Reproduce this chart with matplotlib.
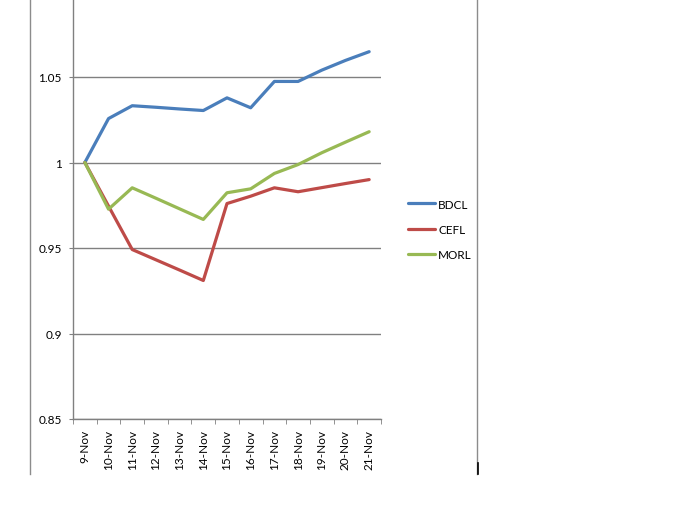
import matplotlib
matplotlib.use('Agg')
import matplotlib.pyplot as plt
from matplotlib.lines import Line2D
import numpy as np

# dates on the category axis
days = ['9-Nov', '10-Nov', '11-Nov', '12-Nov', '13-Nov', '14-Nov', '15-Nov',
        '16-Nov', '17-Nov', '18-Nov', '19-Nov', '20-Nov', '21-Nov']

# relative price
bdcl = [1.000, 1.0257, 1.0332, 1.0323, 1.0313, 1.0304, 1.0378,
        1.0320, 1.0474, 1.0474, 1.0540, 1.0597, 1.0648]
cefl = [1.000, 0.9745, 0.9491, 0.9431, 0.9371, 0.9310, 0.9760,
        0.9803, 0.9852, 0.9829, 0.9853, 0.9877, 0.9900]
morl = [1.000, 0.9727, 0.9852, 0.9791, 0.9729, 0.9667, 0.9823,
        0.9846, 0.9936, 0.9988, 1.0057, 1.0119, 1.0180]

series = [('BDCL', bdcl, '#4A7EBB'), ('CEFL', cefl, '#BE4B48'), ('MORL', morl, '#98B954')]

plt.rcParams['font.family'] = ['Lato', 'DejaVu Sans']

W, H = 682, 506
fig = plt.figure(figsize=(W/100, H/100), dpi=100)
ax = fig.add_axes([73/W, 1-420/H, (381-73)/W, 420/H])

x = np.arange(len(days))
for name, vals, col in series:
    ax.plot(x, vals, color=col, lw=2.3, label=name, solid_capstyle='round')

ax.set_xlim(-0.5, len(days)-0.5)
ax.set_ylim(0.85, 0.85 + 0.05*420/85.5)
ax.set_yticks([0.85, 0.9, 0.95, 1, 1.05])
ax.set_yticklabels(['0.85', '0.9', '0.95', '1', '1.05'])
ax.set_xticks(x)
ax.set_xticklabels(days, rotation=90)
ax.set_xticks(np.arange(-0.5, len(days)), minor=True)

grey = '#808080'
ax.grid(axis='y', color=grey, lw=1)
ax.set_axisbelow(True)
for s in ['top', 'right']:
    ax.spines[s].set_visible(False)
for s in ['left', 'bottom']:
    ax.spines[s].set_color(grey)
    ax.spines[s].set_linewidth(1)
ax.tick_params(axis='y', length=3, color=grey, pad=5, labelsize=8.5)
ax.tick_params(axis='x', which='major', length=0, pad=7, labelsize=8.5)
ax.tick_params(axis='x', which='minor', length=3.5, color=grey)

leg = ax.legend(loc='upper left', bbox_to_anchor=(397/W, 1-189/H), bbox_transform=fig.transFigure,
                frameon=False, fontsize=8.5, handlelength=2.3, handletextpad=0.3, labelspacing=1.2)

# chart area borders
fig.add_artist(Line2D([30/W, 30/W], [1, 1-475/H], color='#8c8c8c', lw=1))
fig.add_artist(Line2D([477/W, 477/W], [1, 1-475/H], color='#8c8c8c', lw=1))
fig.add_artist(Line2D([478/W, 478/W], [1-464/H, 1-475/H], color='black', lw=1.2))

fig.savefig('out.png', dpi=100)
